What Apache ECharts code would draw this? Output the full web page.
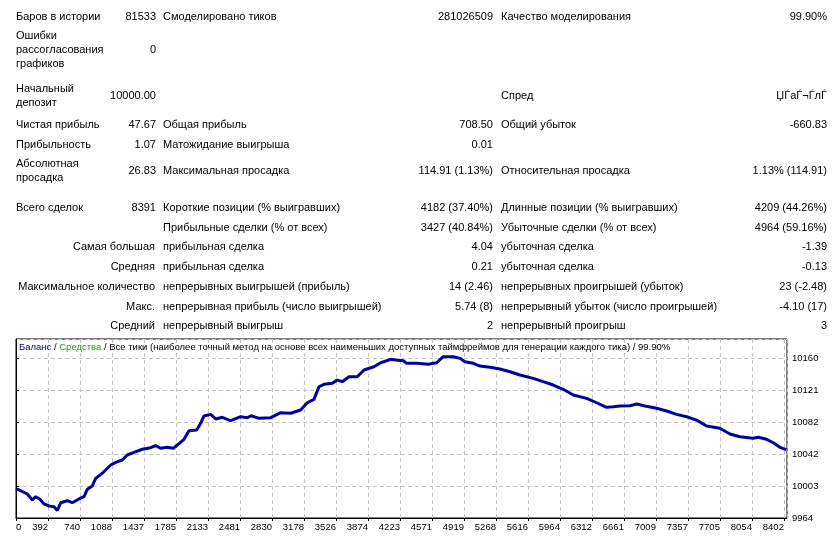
<!DOCTYPE html>
<html>
<head>
<meta charset="utf-8">
<script src="https://cdn.jsdelivr.net/npm/echarts@6/dist/echarts.min.js"></script>
<style>
  html, body { margin: 0; padding: 0; background: #fff; }
  body { width: 833px; height: 537px; position: relative; overflow: hidden;
         font-family: "Liberation Sans", Arial, sans-serif; font-size: 11px; color: #000; }
  #chart { position: absolute; left: 0; top: 0; width: 833px; height: 537px; }
  #report { position: absolute; left: 0; top: 0; width: 833px; height: 335px; z-index: 2; }
  .cell { position: absolute; line-height: 14px; white-space: nowrap; }
  .r { text-align: right; }
</style>
</head>
<body>
<div id="chart"></div>
<div id="report"></div>
<script>
// ---- report table: [centerY, left label, value, label, value, label, value]
// multi-line labels use '\n'; a label starting with '>' is right aligned
const reportRows = [
  [15.5, 'Баров в истории', '81533', 'Смоделировано тиков', '281026509', 'Качество моделирования', '99.90%'],
  [48.5, 'Ошибки\nрассогласования\nграфиков', '0', '', '', '', ''],
  [95, 'Начальный\nдепозит', '10000.00', '', '', 'Спред', 'ЏЃаЃ¬ЃлЃ'],
  [124, 'Чистая прибыль', '47.67', 'Общая прибыль', '708.50', 'Общий убыток', '-660.83'],
  [143.5, 'Прибыльность', '1.07', 'Матожидание выигрыша', '0.01', '', ''],
  [170, 'Абсолютная\nпросадка', '26.83', 'Максимальная просадка', '114.91 (1.13%)', 'Относительная просадка', '1.13% (114.91)'],
  [206.5, 'Всего сделок', '8391', 'Короткие позиции (% выигравших)', '4182 (37.40%)', 'Длинные позиции (% выигравших)', '4209 (44.26%)'],
  [226.5, '', '', 'Прибыльные сделки (% от всех)', '3427 (40.84%)', 'Убыточные сделки (% от всех)', '4964 (59.16%)'],
  [245.5, '>Самая большая', '', 'прибыльная сделка', '4.04', 'убыточная сделка', '-1.39'],
  [265.5, '>Средняя', '', 'прибыльная сделка', '0.21', 'убыточная сделка', '-0.13'],
  [285.5, '>Максимальное количество', '', 'непрерывных выигрышей (прибыль)', '14 (2.46)', 'непрерывных проигрышей (убыток)', '23 (-2.48)'],
  [305.5, '>Макс.', '', 'непрерывная прибыль (число выигрышей)', '5.74 (8)', 'непрерывный убыток (число проигрышей)', '-4.10 (17)'],
  [325, '>Средний', '', 'непрерывный выигрыш', '2', 'непрерывный проигрыш', '3']
]

// ---- balance curve (trade number, balance)
const trades = [0, 51, 123, 178, 215, 232, 261, 305, 360, 414, 450, 487, 559, 613, 686, 741, 777, 831, 868, 940,
  1032, 1086, 1158, 1212, 1286, 1376, 1467, 1522, 1576, 1648, 1714, 1757, 1830, 1885, 1969, 2012, 2048, 2121, 2176, 2247,
  2339, 2448, 2520, 2563, 2647, 2775, 2884, 2993, 3101, 3173, 3246, 3301, 3355, 3446, 3500, 3555, 3628, 3718, 3791, 3900,
  3973, 4082, 4136, 4219, 4256, 4365, 4492, 4583, 4655, 4764, 4837, 4891, 4982, 5055, 5164, 5273, 5382, 5491, 5636, 5744,
  5853, 5962, 6071, 6217, 6326, 6435, 6507, 6580, 6689, 6762, 6852, 6980, 7089, 7198, 7307, 7415, 7524, 7669, 7778, 7887,
  8032, 8087, 8178, 8250, 8323, 8391]
const balance = [10000, 9997.4, 9993.4, 9986.1, 9990.1, 9991.8, 9986.9, 9981.2, 9978.7, 9977.8, 9973.2, 9982.7, 9985.2, 9982.7, 9987.3, 9990.1, 9999.2, 10003.2, 10012.6, 10018.8,
  10028.9, 10032.2, 10035.1, 10041.2, 10044.5, 10048.2, 10050.1, 10052.6, 10049.4, 10050.6, 10049.4, 10053.4, 10060.4, 10070.9, 10071.8, 10080, 10089, 10091, 10085.3, 10087.4,
  10083.2, 10088.1, 10086.9, 10089.3, 10086.1, 10086.9, 10093, 10092.3, 10096.3, 10105.2, 10109.4, 10124.8, 10127.8, 10129, 10133, 10131, 10137.1, 10137.1, 10145.3, 10149.3,
  10154.2, 10158.4, 10157.6, 10156.7, 10153.5, 10153.5, 10152.3, 10154.2, 10161.6, 10161.6, 10159.6, 10155.5, 10153.5, 10150.2, 10148.6, 10146.5, 10143.2, 10139.2, 10135.1, 10131,
  10126.9, 10121.7, 10114.7, 10110.6, 10105.2, 10099.6, 10100.3, 10101.2, 10101.6, 10103.7, 10101.2, 10098.4, 10095.1, 10091, 10088.1, 10084, 10076.7, 10073.9, 10066.9, 10063.6,
  10061.6, 10062.9, 10060.4, 10056.2, 10050.6, 10047.67]

// ---- axis tick labels as printed by the tester
const xTickLabels = ['0', '392', '740', '1088', '1437', '1785', '2133', '2481', '2830', '3178', '3526', '3874', '4223',
  '4571', '4919', '5268', '5616', '5964', '6312', '6661', '7009', '7357', '7705', '8054', '8402']
const yTickLabels = ['9964', '10003', '10042', '10082', '10121', '10160']

const xStep = 348.6
const xMax = 8400
const yMin = 9964
const yStep = 39.2
const yMax = 10183.3

const FONT = '"Liberation Sans", Arial, sans-serif'
const GRID_LINE = { show: true, lineStyle: { color: '#c4c4c4', type: [4, 3], width: 1 } }

// build the report text
const report = document.getElementById('report')
const cols = [
  { left: 16 },            // label
  { right: 156 },          // value
  { left: 163 },           // label
  { right: 493 },          // value
  { left: 501 },           // label
  { right: 827 }           // value
]
reportRows.forEach((row) => {
  const cy = row[0]
  for (let i = 1; i < row.length; i++) {
    let text = row[i]
    if (!text) continue
    const col = cols[i - 1]
    const div = document.createElement('div')
    div.className = 'cell'
    let rightAlign = col.right !== undefined
    let rightEdge = col.right
    if (text.startsWith('>')) {
      text = text.slice(1)
      rightAlign = true
      rightEdge = 155
    }
    const lines = text.split('\n')
    div.innerHTML = lines.join('<br>')
    div.style.top = (cy - lines.length * 7) + 'px'
    if (rightAlign) {
      div.classList.add('r')
      div.style.right = (833 - rightEdge) + 'px'
    } else {
      div.style.left = col.left + 'px'
    }
    report.appendChild(div)
  }
})

const chart = echarts.init(document.getElementById('chart'))

const option = {
  backgroundColor: '#fff',
  animation: false,
  textStyle: { fontFamily: FONT },
  title: {
    text: '{b|Баланс} / {g|Средства} / Все тики (наиболее точный метод на основе всех наименьших доступных таймфреймов для генерации каждого тика) / 99.90%',
    left: 19,
    top: 342,
    padding: 0,
    textStyle: {
      fontFamily: FONT,
      fontSize: 9.5,
      fontWeight: 'normal',
      color: '#000',
      rich: {
        b: { color: '#000080', fontSize: 9.5, fontFamily: FONT },
        g: { color: '#1f9e1f', fontSize: 9.5, fontFamily: FONT }
      }
    }
  },
  grid: {
    left: 16,
    top: 339,
    right: 46,
    bottom: 19,
    show: true,
    borderColor: '#000',
    borderWidth: 1,
    containLabel: false
  },
  xAxis: {
    type: 'value',
    min: 0,
    max: xMax,
    interval: xStep,
    axisLine: { show: true, lineStyle: { color: '#000', width: 1 } },
    axisTick: { show: true, length: 3, lineStyle: { color: '#000' } },
    axisLabel: {
      color: '#000',
      fontSize: 9.5,
      fontFamily: FONT,
      margin: 4,
      align: 'right',
      alignMinLabel: 'left',
      showMaxLabel: false,
      formatter: function (v) {
        const k = v / xStep
        if (Math.abs(k - Math.round(k)) > 0.01) return ''
        return xTickLabels[Math.round(k)] || ''
      }
    },
    splitLine: GRID_LINE
  },
  yAxis: {
    type: 'value',
    position: 'right',
    min: yMin,
    max: yMax,
    interval: yStep,
    axisLine: { show: true, lineStyle: { color: '#000', width: 1 } },
    axisTick: { show: true, length: 3, lineStyle: { color: '#000' } },
    axisLabel: {
      color: '#000',
      fontSize: 9.5,
      fontFamily: FONT,
      margin: 5,
      showMaxLabel: false,
      formatter: function (v) {
        const k = (v - yMin) / yStep
        if (Math.abs(k - Math.round(k)) > 0.01) return ''
        return yTickLabels[Math.round(k)] || ''
      }
    },
    splitLine: GRID_LINE
  },
  series: [
    {
      name: 'Баланс',
      type: 'line',
      data: trades.map((t, i) => [t, balance[i]]),
      showSymbol: false,
      symbol: 'none',
      lineStyle: { color: '#0000a0', width: 3 },
      z: 3
    }
  ]
}

chart.setOption(option)
</script>
</body>
</html>
